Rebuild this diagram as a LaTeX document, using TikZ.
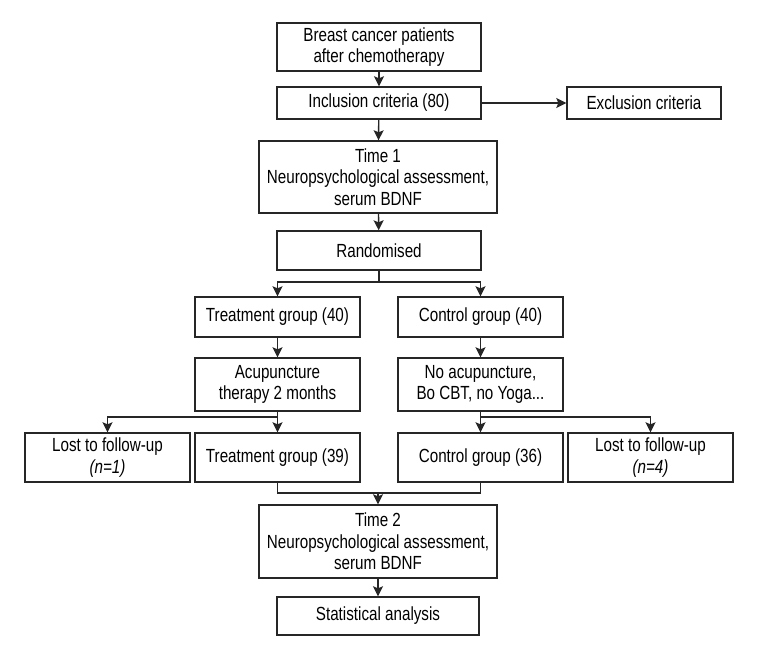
\documentclass[tikz,border=0pt]{standalone}
\usepackage{fontspec}
\setmainfont{Liberation Sans}[FakeStretch=0.8]
\usepackage{tikz}
\usetikzlibrary{arrows.meta}
\tikzset{
    box/.style={draw=black!85, line width=1.4pt, align=center, inner sep=2pt,
        font=\fontsize{19}{21.5}\selectfont},
    flow/.style={draw=black!85, line width=1.4pt, -{Stealth[length=10pt,width=10pt,inset=2pt]}},
    link/.style={draw=black!85, line width=1.4pt}
}

\begin{document}
\begin{tikzpicture}[x=1pt, y=-1pt]
        \useasboundingbox (0,0) rectangle (760,660);
        \node[box, minimum width=204pt, minimum height=48pt] (breast) at (379,47) {Breast cancer patients\\after chemotherapy};
        \node[box, minimum width=204pt, minimum height=32pt] (incl) at (379,103) {Inclusion criteria (80)};
        \node[box, minimum width=154pt, minimum height=32pt] (excl) at (644,103) {Exclusion criteria};
        \node[box, minimum width=238pt, minimum height=72pt] (time1) at (378,177) {Time 1\\Neuropsychological assessment,\\serum BDNF};
        \node[box, minimum width=204pt, minimum height=39pt] (rand) at (379,250.5) {Randomised};
        \node[box, minimum width=165pt, minimum height=40pt] (treat40) at (277.5,317) {Treatment group (40)};
        \node[box, minimum width=165pt, minimum height=40pt] (ctrl40) at (480.5,317) {Control group (40)};
        \node[box, minimum width=165pt, minimum height=53pt] (acu) at (277.5,384.5) {Acupuncture\\therapy 2 months};
        \node[box, minimum width=165pt, minimum height=53pt] (noacu) at (480.5,384.5) {No acupuncture,\\Bo CBT, no Yoga...};
        \node[box, minimum width=165pt, minimum height=49pt] (lost1) at (107.5,457.5) {Lost to follow-up\\\textit{(n=1)}};
        \node[box, minimum width=165pt, minimum height=49pt] (treat39) at (277.5,457.5) {Treatment group (39)};
        \node[box, minimum width=165pt, minimum height=49pt] (ctrl36) at (480.5,457.5) {Control group (36)};
        \node[box, minimum width=165pt, minimum height=49pt] (lost4) at (650.5,457.5) {Lost to follow-up\\\textit{(n=4)}};
        \node[box, minimum width=238pt, minimum height=73pt] (time2) at (378,541.5) {Time 2\\Neuropsychological assessment,\\serum BDNF};
        \node[box, minimum width=202pt, minimum height=38pt] (stat) at (378,616) {Statistical analysis};
        \coordinate (split1) at (379,282);
        \coordinate (split2) at (277.5,417);
        \coordinate (split3) at (480.5,417);
        \coordinate (merge) at (378,493);
        \draw[flow] (breast) -- (incl);
        \draw[flow] (incl) -- (excl);
        \draw[flow] (incl) -- (time1);
        \draw[flow] (time1) -- (rand);
        \draw[link] (rand) -- (split1);
        \draw[flow] (split1) -| (treat40);
        \draw[flow] (split1) -| (ctrl40);
        \draw[flow] (treat40) -- (acu);
        \draw[flow] (ctrl40) -- (noacu);
        \draw[flow] (acu) -- (treat39);
        \draw[flow] (split2) -| (lost1);
        \draw[flow] (noacu) -- (ctrl36);
        \draw[flow] (split3) -| (lost4);
        \draw[link] (treat39) |- (merge);
        \draw[link] (ctrl36) |- (merge);
        \draw[flow] (merge) -- (time2);
        \draw[flow] (time2) -- (stat);
    \end{tikzpicture}
\end{document}
